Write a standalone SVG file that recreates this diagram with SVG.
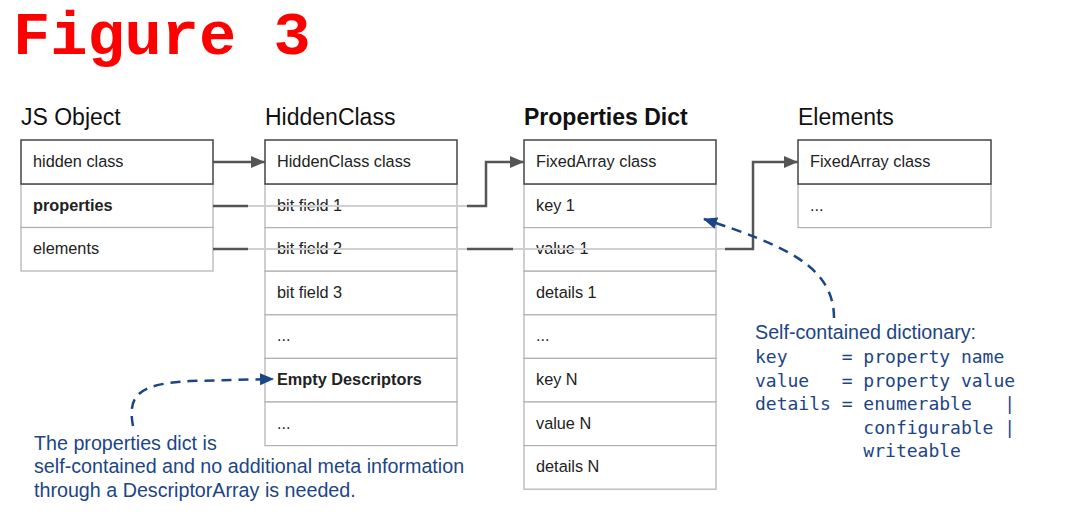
<svg xmlns="http://www.w3.org/2000/svg" width="1066" height="526" viewBox="0 0 1066 526">
<style>
.title{font-family:"Liberation Sans",Arial,sans-serif;font-size:23px;fill:#111}
.cell{font-family:"Liberation Sans",Arial,sans-serif;font-size:16.3px;fill:#222}
.b{font-weight:bold}
.hdr{fill:#fff;stroke:#444;stroke-width:1.5}
.row{fill:#fff;stroke:#b0b0b0;stroke-width:1.2}
.conn{fill:none;stroke:#555;stroke-width:2.5}
.faint{fill:none;stroke:#d0d0d0;stroke-width:2}
.note{fill:none;stroke:#1c4587;stroke-width:2.5;stroke-dasharray:10 7}
.nt{font-family:"Liberation Sans",Arial,sans-serif;font-size:19.7px;fill:#1c4587}
.mono{font-family:"DejaVu Sans Mono","Liberation Mono",monospace;font-size:18px;fill:#1c4587;white-space:pre}
</style>
<defs>
<marker id="ah" markerUnits="userSpaceOnUse" markerWidth="16" markerHeight="14" refX="14" refY="6" orient="auto">
<path d="M0,0 L14,6 L0,12 Z" fill="#555"/>
</marker>
<marker id="bh" markerUnits="userSpaceOnUse" markerWidth="16" markerHeight="14" refX="13" refY="6" orient="auto">
<path d="M0,0 L14,6 L0,12 Z" fill="#1c4587"/>
</marker>
</defs>
<rect width="1066" height="526" fill="#fff"/>
<text x="13" y="54" style="font-family:'Liberation Mono','Courier New',monospace;font-weight:bold;font-size:62px;fill:#ff0000">Figure 3</text>

<text class="title" x="21" y="125">JS Object</text>
<text class="title" x="265" y="125">HiddenClass</text>
<text class="title b" x="524" y="125">Properties Dict</text>
<text class="title" x="798" y="125">Elements</text>

<g id="jsobject">
<rect class="row" x="21" y="184" width="192" height="43.5"/>
<rect class="row" x="21" y="227.5" width="192" height="43.5"/>
<rect class="hdr" x="21" y="140" width="192" height="44"/>
<text class="cell" x="33" y="167">hidden class</text>
<text class="cell b" x="33" y="211">properties</text>
<text class="cell" x="33" y="254">elements</text>
</g>

<g id="hiddenclass">
<rect class="row" x="265" y="184" width="192" height="43.6"/>
<rect class="row" x="265" y="227.6" width="192" height="43.6"/>
<rect class="row" x="265" y="271.2" width="192" height="43.6"/>
<rect class="row" x="265" y="314.8" width="192" height="43.6"/>
<rect class="row" x="265" y="358.4" width="192" height="43.6"/>
<rect class="row" x="265" y="402" width="192" height="43.6"/>
<rect class="hdr" x="265" y="140" width="192" height="44"/>
<text class="cell" x="277" y="167">HiddenClass class</text>
<text class="cell" x="277" y="211">bit field 1</text>
<text class="cell" x="277" y="254">bit field 2</text>
<text class="cell" x="277" y="298">bit field 3</text>
<text class="cell" x="277" y="341">...</text>
<text class="cell b" x="277" y="385">Empty Descriptors</text>
<text class="cell" x="277" y="429">...</text>
</g>

<g id="propertiesdict">
<rect class="row" x="524" y="184" width="192" height="43.6"/>
<rect class="row" x="524" y="227.6" width="192" height="43.6"/>
<rect class="row" x="524" y="271.2" width="192" height="43.6"/>
<rect class="row" x="524" y="314.8" width="192" height="43.6"/>
<rect class="row" x="524" y="358.4" width="192" height="43.6"/>
<rect class="row" x="524" y="402" width="192" height="43.6"/>
<rect class="row" x="524" y="445.6" width="192" height="43.6"/>
<rect class="hdr" x="524" y="140" width="192" height="44"/>
<text class="cell" x="536" y="167">FixedArray class</text>
<text class="cell" x="536" y="211">key 1</text>
<text class="cell" x="536" y="254">value 1</text>
<text class="cell" x="536" y="298">details 1</text>
<text class="cell" x="536" y="341">...</text>
<text class="cell" x="536" y="385">key N</text>
<text class="cell" x="536" y="429">value N</text>
<text class="cell" x="536" y="472">details N</text>
</g>

<g id="elements">
<rect class="row" x="798" y="184" width="193" height="43.6"/>
<rect class="hdr" x="798" y="140" width="193" height="44"/>
<text class="cell" x="810" y="167">FixedArray class</text>
<text class="cell" x="810" y="211">...</text>
</g>

<g id="note-left">
<text class="nt" x="34" y="450">The properties dict is</text>
<text class="nt" x="34" y="473">self-contained and no additional meta information</text>
<text class="nt" x="34" y="497">through a DescriptorArray is needed.</text>
</g>

<g id="note-right">
<text class="nt" x="755" y="339">Self-contained dictionary:</text>
<text class="mono" x="755" y="363" xml:space="preserve">key     = property name</text>
<text class="mono" x="755" y="387" xml:space="preserve">value   = property value</text>
<text class="mono" x="755" y="410" xml:space="preserve">details = enumerable   |</text>
<text class="mono" x="755" y="434" xml:space="preserve">          configurable |</text>
<text class="mono" x="755" y="457" xml:space="preserve">          writeable</text>
</g>

<g id="connectors">
<path class="faint" d="M248,206 H467 M248,249 H467 M513,249 H725"/>
<path class="conn" d="M213,162 H265" marker-end="url(#ah)"/>
<path class="conn" d="M213,206 H248 M213,249 H248"/>
<path class="conn" d="M467,206 H486 V162 H524" marker-end="url(#ah)"/>
<path class="conn" d="M467,249 H513"/>
<path class="conn" d="M725,249 H753 V162 H798" marker-end="url(#ah)"/>
<path class="note" d="M834,318 C834,265 782,245 704,219" marker-end="url(#bh)"/>
<path class="note" d="M133,426 C127,394 140,384 190,381 L273,379" marker-end="url(#bh)"/>
</g>
</svg>
